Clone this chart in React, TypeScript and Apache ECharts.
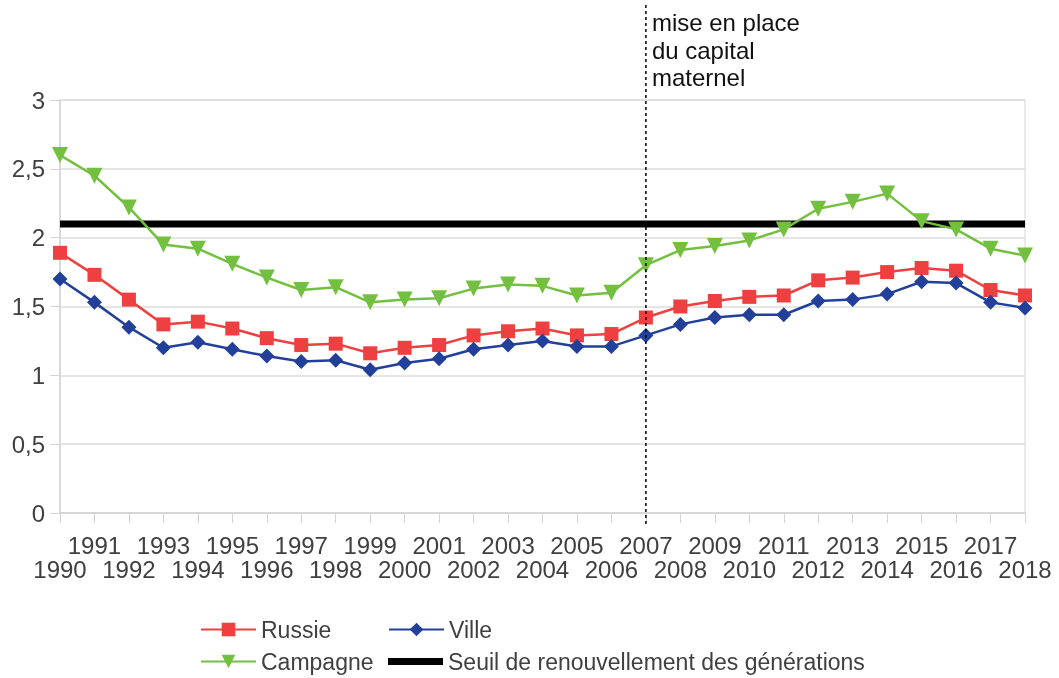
import React, { useEffect, useRef } from "react";
import * as echarts from "echarts";

const years = ["1990","1991","1992","1993","1994","1995","1996","1997","1998","1999","2000","2001","2002","2003","2004","2005","2006","2007","2008","2009","2010","2011","2012","2013","2014","2015","2016","2017","2018"];
const russie = [1.89,1.73,1.55,1.37,1.39,1.34,1.27,1.22,1.23,1.16,1.2,1.22,1.29,1.32,1.34,1.29,1.3,1.42,1.5,1.54,1.57,1.58,1.69,1.71,1.75,1.78,1.76,1.62,1.58];
const ville = [1.7,1.53,1.35,1.2,1.24,1.19,1.14,1.1,1.11,1.04,1.09,1.12,1.19,1.22,1.25,1.21,1.21,1.29,1.37,1.42,1.44,1.44,1.54,1.55,1.59,1.68,1.67,1.53,1.49];
const campagne = [2.6,2.45,2.22,1.95,1.92,1.81,1.71,1.62,1.64,1.53,1.55,1.56,1.63,1.66,1.65,1.58,1.6,1.8,1.91,1.94,1.98,2.06,2.21,2.26,2.32,2.12,2.06,1.92,1.87];
const seuilValue = 2.1;
const seuil = years.map(() => seuilValue);
const markerYear = "2007";
const annotation = "mise en place\ndu capital\nmaternel";
const seuilName = "Seuil de renouvellement des générations";

const FONT = "Liberation Sans";
const TXT = "#404040";

export default function App() {
  const ref = useRef<HTMLDivElement>(null);
  useEffect(() => {
    const chart = echarts.init(ref.current!, null, { renderer: "svg" });
    const legendBase = {
      itemWidth: 55,
      itemHeight: 17,
      itemGap: 6,
      textStyle: { fontSize: 23, color: TXT, fontFamily: FONT },
    };
    chart.setOption({
      animation: false,
      textStyle: { fontFamily: FONT },
      grid: {
        left: 60,
        right: 34,
        top: 100,
        bottom: 165,
        show: true,
        borderColor: "#d4d4d4",
        borderWidth: 1,
      },
      legend: [
        { ...legendBase, data: ["Russie"], left: 195, top: 613 },
        { ...legendBase, data: ["Ville"], left: 383, top: 613 },
        { ...legendBase, data: ["Campagne"], left: 195, top: 645 },
        {
          ...legendBase,
          itemHeight: 7,
          data: [{ name: seuilName, icon: "rect" }],
          left: 383,
          top: 645,
        },
      ],
      xAxis: {
        type: "category",
        data: years,
        boundaryGap: false,
        axisLine: { lineStyle: { color: "#d4d4d4", width: 1.5 } },
        axisTick: { show: true, length: 10, interval: 0, lineStyle: { color: "#d4d4d4" } },
        axisLabel: {
          interval: 0,
          hideOverlap: false,
          fontSize: 24,
          lineHeight: 24,
          color: TXT,
          fontFamily: FONT,
          margin: 20,
          formatter: (v: string, i: number) => (i % 2 === 0 ? "\n" + v : v),
        },
        splitLine: { show: false },
      },
      yAxis: {
        type: "value",
        min: 0,
        max: 3,
        interval: 0.5,
        axisLine: { show: true, lineStyle: { color: "#d4d4d4", width: 1.5 } },
        axisTick: { show: true, length: 10, lineStyle: { color: "#d4d4d4" } },
        axisLabel: {
          fontSize: 24,
          color: TXT,
          fontFamily: FONT,
          margin: 15,
          formatter: (v: number) => String(v).replace(".", ","),
        },
        splitLine: { lineStyle: { color: "#dcdcdc", width: 1.5 } },
      },
      series: [
        {
          name: "Russie",
          type: "line",
          data: russie,
          color: "#ee4040",
          symbol: "rect",
          symbolSize: 14,
          lineStyle: { width: 2.5 },
          z: 3,
        },
        {
          name: "Ville",
          type: "line",
          data: ville,
          color: "#22409a",
          symbol: "diamond",
          symbolSize: 15,
          lineStyle: { width: 2.5 },
          z: 4,
        },
        {
          name: "Campagne",
          type: "line",
          data: campagne,
          color: "#73bf40",
          symbol: "triangle",
          symbolRotate: 180,
          symbolSize: 16,
          lineStyle: { width: 2.5 },
          z: 2,
        },
        {
          name: seuilName,
          type: "line",
          data: seuil,
          color: "#000000",
          symbol: "none",
          lineStyle: { width: 7 },
          z: 1,
        },
      ],
    });
    const x = chart.convertToPixel({ xAxisIndex: 0 }, markerYear) as number;
    chart.setOption({
      graphic: [
        {
          type: "line",
          shape: { x1: x, y1: 5, x2: x, y2: 525 },
          style: { stroke: "#000", lineWidth: 1.5, lineDash: [3, 3] },
          z: 10,
        },
        {
          type: "text",
          x: x + 6,
          y: 9,
          style: {
            text: annotation,
            fontSize: 24,
            lineHeight: 27.5,
            fill: "#111",
            fontFamily: FONT,
          },
        },
      ],
    });
    return () => chart.dispose();
  }, []);
  return (
    <div
      ref={ref}
      style={{ position: "fixed", left: 0, top: 0, width: 1059, height: 678 }}
    />
  );
}
